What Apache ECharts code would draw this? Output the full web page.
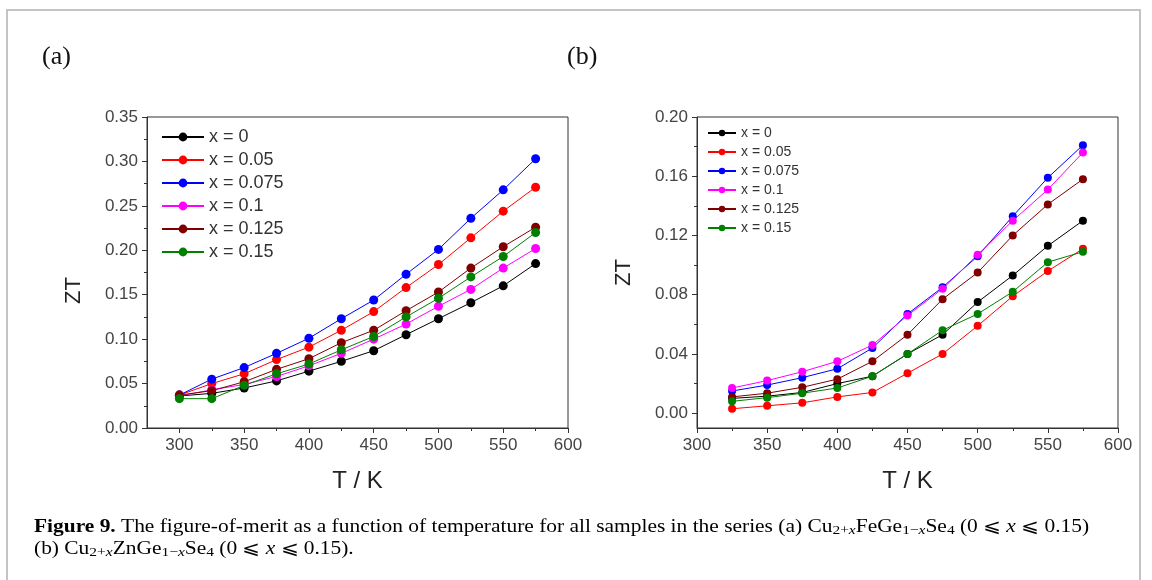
<!DOCTYPE html>
<html>
<head>
<meta charset="utf-8">
<script src="https://cdn.jsdelivr.net/npm/echarts@6/dist/echarts.min.js"></script>
<style>
html,body{margin:0;padding:0;background:#fff;}
#chart{width:1152px;height:580px;}
</style>
</head>
<body>
<div id="chart"></div>
<script>
// temperatures (K)
var tempA = [300, 325, 350, 375, 400, 425, 450, 475, 500, 525, 550, 575];
var tempB = [325, 350, 375, 400, 425, 450, 475, 500, 525, 550, 575];

var names = ['x = 0', 'x = 0.05', 'x = 0.075', 'x = 0.1', 'x = 0.125', 'x = 0.15'];
var colors = ['#000000', '#ff0000', '#0000ff', '#ff00ff', '#800000', '#008000'];

// (a) Cu2+xFeGe1-xSe4
var ztA_0    = [0.036, 0.039, 0.045, 0.053, 0.064, 0.075, 0.087, 0.105, 0.123, 0.141, 0.160, 0.185];
var ztA_005  = [0.037, 0.050, 0.061, 0.077, 0.091, 0.110, 0.131, 0.158, 0.184, 0.214, 0.244, 0.271];
var ztA_0075 = [0.037, 0.055, 0.068, 0.084, 0.101, 0.123, 0.144, 0.173, 0.201, 0.236, 0.268, 0.303];
var ztA_01   = [0.036, 0.043, 0.049, 0.058, 0.070, 0.084, 0.100, 0.117, 0.137, 0.156, 0.180, 0.202];
var ztA_0125 = [0.037, 0.042, 0.052, 0.066, 0.078, 0.096, 0.110, 0.132, 0.153, 0.180, 0.204, 0.226];
var ztA_015  = [0.033, 0.033, 0.048, 0.061, 0.072, 0.088, 0.103, 0.125, 0.146, 0.170, 0.193, 0.220];

// (b) Cu2+xZnGe1-xSe4
var ztB_0    = [0.010, 0.0115, 0.014, 0.020, 0.025, 0.040, 0.053, 0.075, 0.093, 0.113, 0.130];
var ztB_005  = [0.003, 0.005, 0.007, 0.011, 0.014, 0.027, 0.040, 0.059, 0.079, 0.096, 0.111];
var ztB_0075 = [0.015, 0.019, 0.024, 0.030, 0.044, 0.067, 0.085, 0.106, 0.133, 0.159, 0.181];
var ztB_01   = [0.017, 0.022, 0.028, 0.035, 0.046, 0.066, 0.084, 0.107, 0.130, 0.151, 0.176];
var ztB_0125 = [0.011, 0.0135, 0.0175, 0.023, 0.035, 0.053, 0.077, 0.095, 0.120, 0.141, 0.158];
var ztB_015  = [0.008, 0.0105, 0.0135, 0.017, 0.025, 0.040, 0.056, 0.067, 0.082, 0.102, 0.109];

// tick values
var xMajor = [300, 350, 400, 450, 500, 550, 600];
var xMinor = [325, 375, 425, 475, 525, 575];
var yMajorA = [0, 0.05, 0.10, 0.15, 0.20, 0.25, 0.30, 0.35];
var yMinorA = [0.025, 0.075, 0.125, 0.175, 0.225, 0.275, 0.325];
var yMajorB = [0, 0.04, 0.08, 0.12, 0.16, 0.20];
var yMinorB = [0.02, 0.06, 0.10, 0.14, 0.18];

var ztA = [ztA_0, ztA_005, ztA_0075, ztA_01, ztA_0125, ztA_015];
var ztB = [ztB_0, ztB_005, ztB_0075, ztB_01, ztB_0125, ztB_015];

var axisColor = '#333';
var labelFont = 'Liberation Sans, Arial, sans-serif';

function pairs(xs, ys) {
    return xs.map(function (x, i) { return [x, ys[i]]; });
}

function majorX(gi, min, max) {
    return {
        type: 'value', gridIndex: gi, min: min, max: max, position: 'bottom',
        axisLine: { show: true, onZero: false, lineStyle: { color: axisColor, width: 1 } },
        axisTick: { show: true, length: 5, customValues: xMajor, lineStyle: { color: axisColor } },
        axisLabel: { customValues: xMajor, fontSize: 17, color: '#444', margin: 9, fontFamily: labelFont },
        splitLine: { show: false },
        name: 'T / K', nameLocation: 'middle', nameGap: 41,
        nameTextStyle: { fontSize: 24, color: '#222', fontFamily: labelFont }
    };
}
function minorX(gi, min, max) {
    return {
        type: 'value', gridIndex: gi, min: min, max: max, position: 'bottom',
        axisLine: { show: false, onZero: false },
        axisTick: { show: true, length: 3, customValues: xMinor, lineStyle: { color: axisColor } },
        axisLabel: { show: false },
        splitLine: { show: false }
    };
}
function majorY(gi, min, max, ticks, namePad) {
    return {
        type: 'value', gridIndex: gi, min: min, max: max, position: 'left',
        axisLine: { show: true, onZero: false, lineStyle: { color: axisColor, width: 1 } },
        axisTick: { show: true, length: 5, customValues: ticks, lineStyle: { color: axisColor } },
        axisLabel: {
            customValues: ticks, fontSize: 17, color: '#444', margin: 9, fontFamily: labelFont,
            formatter: function (v) { return v.toFixed(2); }
        },
        splitLine: { show: false },
        name: 'ZT', nameLocation: 'middle', nameGap: 62,
        nameTextStyle: { fontSize: 22, color: '#222', fontFamily: labelFont, padding: namePad }
    };
}
function minorY(gi, min, max, ticks) {
    return {
        type: 'value', gridIndex: gi, min: min, max: max, position: 'left',
        axisLine: { show: false, onZero: false },
        axisTick: { show: true, length: 3, customValues: ticks, lineStyle: { color: axisColor } },
        axisLabel: { show: false },
        splitLine: { show: false }
    };
}

var series = [];
names.forEach(function (n, i) {
    series.push({
        name: n, type: 'line', xAxisIndex: 0, yAxisIndex: 0,
        data: pairs(tempA, ztA[i]),
        symbol: 'circle', symbolSize: 9,
        itemStyle: { color: colors[i] },
        lineStyle: { color: colors[i], width: 1 }
    });
});
names.forEach(function (n, i) {
    series.push({
        name: n, type: 'line', xAxisIndex: 2, yAxisIndex: 2,
        data: pairs(tempB, ztB[i]),
        symbol: 'circle', symbolSize: 8,
        itemStyle: { color: colors[i] },
        lineStyle: { color: colors[i], width: 1 }
    });
});

var capFont = 'Liberation Serif, Times New Roman, serif';
var capRich = {
    n: { fontSize: 18, fontFamily: capFont, color: '#111', lineHeight: 20, verticalAlign: 'middle' },
    b: { fontSize: 18, fontFamily: capFont, color: '#111', fontWeight: 'bold', lineHeight: 20 },
    i: { fontSize: 18, fontFamily: capFont, color: '#111', fontStyle: 'italic', lineHeight: 20 },
    s: { fontSize: 13, fontFamily: capFont, color: '#111', lineHeight: 12, verticalAlign: 'bottom' },
    si: { fontSize: 13, fontFamily: capFont, color: '#111', fontStyle: 'italic', lineHeight: 12, verticalAlign: 'bottom' }
};

var option = {
    backgroundColor: '#fff',
    animation: false,
    grid: [
        { left: 147, top: 117, width: 421, height: 311, show: true, borderColor: axisColor, borderWidth: 1 },
        { left: 697, top: 117, width: 421, height: 311, show: true, borderColor: axisColor, borderWidth: 1 }
    ],
    xAxis: [majorX(0, 275, 600), minorX(0, 275, 600), majorX(1, 300, 600), minorX(1, 300, 600)],
    yAxis: [
        majorY(0, 0, 0.35, yMajorA, [0, 36, 0, 0]), minorY(0, 0, 0.35, yMinorA),
        majorY(1, -0.01, 0.20, yMajorB, [0, 0, 0, 0]), minorY(1, -0.01, 0.20, yMinorB)
    ],
    legend: [
        {
            left: 161, top: 128, padding: 0, orient: 'vertical', data: names, selectedMode: false,
            itemWidth: 42, itemHeight: 11, itemGap: 5,
            textStyle: { fontSize: 18, color: '#333', fontFamily: labelFont }
        },
        {
            left: 707, top: 126, padding: 0, orient: 'vertical', data: names, selectedMode: false,
            itemWidth: 28, itemHeight: 8, itemGap: 5,
            textStyle: { fontSize: 14, color: '#333', fontFamily: labelFont }
        }
    ],
    graphic: [
        {
            type: 'rect', silent: true,
            shape: { x: 7, y: 10, width: 1133, height: 600 },
            style: { fill: 'none', stroke: '#c4c4c4', lineWidth: 2 }
        },
        {
            type: 'text', x: 42, y: 57,
            style: { text: '(a)', font: '26px Liberation Serif', fill: '#111', verticalAlign: 'middle' }
        },
        {
            type: 'text', x: 567, y: 57,
            style: { text: '(b)', font: '26px Liberation Serif', fill: '#111', verticalAlign: 'middle' }
        },
        {
            type: 'text', x: 34, y: 527, scaleX: 1.19,
            style: {
                text: '{b|Figure 9.}{n| The figure-of-merit as a function of temperature for all samples in the series (a) Cu}{s|2+}{si|x}{n|FeGe}{s|1−}{si|x}{n|Se}{s|4}{n| (0 ⩽ }{i|x}{n| ⩽ 0.15)}',
                rich: capRich, verticalAlign: 'middle'
            }
        },
        {
            type: 'text', x: 34, y: 549, scaleX: 1.19,
            style: {
                text: '{n|(b) Cu}{s|2+}{si|x}{n|ZnGe}{s|1−}{si|x}{n|Se}{s|4}{n| (0 ⩽ }{i|x}{n| ⩽ 0.15).}',
                rich: capRich, verticalAlign: 'middle'
            }
        }
    ],
    series: series
};

var chart = echarts.init(document.getElementById('chart'));
chart.setOption(option);
</script>
</body>
</html>
